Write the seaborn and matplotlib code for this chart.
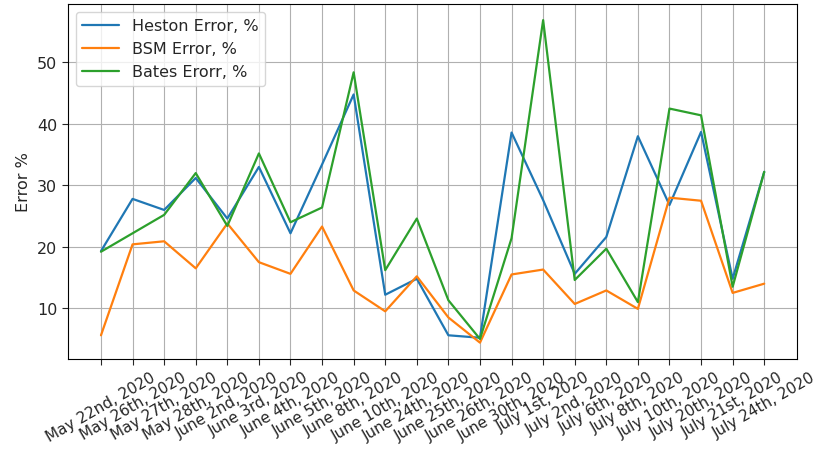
import matplotlib
matplotlib.use("Agg")
import matplotlib.pyplot as plt
import seaborn as sns

dates = ["May 22nd, 2020", "May 26th, 2020", "May 27th, 2020", "May 28th, 2020",
         "June 2nd, 2020", "June 3rd, 2020", "June 4th, 2020", "June 5th, 2020",
         "June 8th, 2020", "June 10th, 2020", "June 24th, 2020", "June 25th, 2020",
         "June 26th, 2020", "June 30th, 2020", "July 1st, 2020", "July 2nd, 2020",
         "July 6th, 2020", "July 8th, 2020", "July 10th, 2020", "July 20th, 2020",
         "July 21st, 2020", "July 24th, 2020"]

heston = [19.3, 27.8, 26.0, 31.2, 24.6, 33.0, 22.2, 33.4, 44.8, 12.2, 14.8,
          5.6, 5.2, 38.6, 27.6, 15.6, 21.6, 38.0, 26.8, 38.7, 14.8, 32.2]
bsm = [5.6, 20.4, 20.9, 16.5, 23.8, 17.5, 15.6, 23.3, 12.9, 9.5, 15.2,
       8.5, 4.4, 15.5, 16.3, 10.7, 12.9, 9.9, 28.0, 27.5, 12.5, 14.0]
bates = [19.2, 22.2, 25.2, 32.0, 23.4, 35.2, 24.0, 26.4, 48.4, 16.2, 24.6,
         11.3, 5.0, 21.4, 56.9, 14.6, 19.7, 11.0, 42.5, 41.4, 13.5, 32.2]

series = {
    "Heston Error, %": heston,
    "BSM Error, %": bsm,
    "Bates Erorr, %": bates,
}
palette = ["#1f77b4", "#ff7f0e", "#2ca02c"]

sns.set_style("ticks", {
    "axes.grid": True,
    "grid.color": "#b0b0b0",
    "axes.edgecolor": "black",
    "axes.linewidth": 0.8,
})
plt.rcParams["font.family"] = ["DejaVu Sans"]
plt.rcParams["font.size"] = 11.5

fig, ax = plt.subplots(figsize=(8.17, 4.52), dpi=100)
fig.subplots_adjust(left=0.083, right=0.976, top=0.989, bottom=0.204)

for (name, vals), col in zip(series.items(), palette):
    sns.lineplot(x=dates, y=vals, label=name, color=col, linewidth=1.6,
                 sort=False, ax=ax)

ax.set_ylabel("Error %", fontsize=11.5)
ax.set_xlabel("")
ax.tick_params(axis="x", labelrotation=30, labelsize=11, direction="out", length=4)
ax.tick_params(axis="y", labelsize=11.5, direction="out", length=4)
for lab in ax.get_xticklabels():
    lab.set_ha("center")
ax.grid(True, color="#b0b0b0", linewidth=0.8)
for sp in ax.spines.values():
    sp.set_visible(True)
    sp.set_color("black")
ax.legend(loc="upper left", frameon=True, fontsize=11.5, handlelength=2.3)

fig.savefig("out.png", dpi=100)
